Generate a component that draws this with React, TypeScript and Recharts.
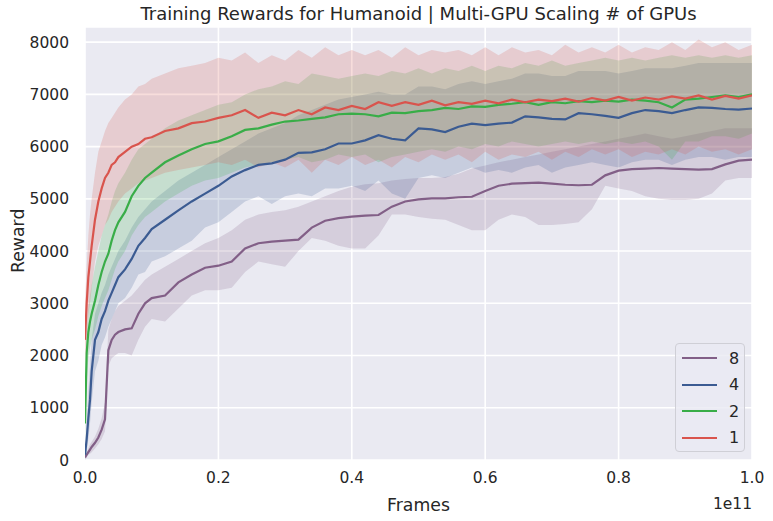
import React from 'react';
import { ComposedChart, Area, Line, XAxis, YAxis, CartesianGrid } from 'recharts';

// frames, in units of 1e11
const frames = [
  0, 0.0025, 0.005, 0.0075, 0.01, 0.015, 0.02, 0.025, 0.03, 0.035, 0.04, 0.045, 0.05,
  0.06, 0.07, 0.08, 0.09, 0.1, 0.12, 0.14, 0.16, 0.18, 0.2, 0.22, 0.24, 0.26, 0.28, 0.3,
  0.32, 0.34, 0.36, 0.38, 0.4, 0.42, 0.44, 0.46, 0.48, 0.5, 0.52, 0.54, 0.56, 0.58, 0.6,
  0.62, 0.64, 0.66, 0.68, 0.7, 0.72, 0.74, 0.76, 0.78, 0.8, 0.82, 0.84, 0.86, 0.88, 0.9,
  0.92, 0.94, 0.96, 0.98, 1.0,
];

// 1 GPU
const gpu1Mean = [
  2300, 3000, 3500, 3800, 4100, 4600, 4950, 5200, 5400, 5500, 5650, 5700, 5800,
  5900, 6000, 6050, 6150, 6180, 6300, 6350, 6450, 6480, 6550, 6600, 6700, 6550, 6650, 6600,
  6700, 6620, 6750, 6700, 6780, 6720, 6850, 6780, 6850, 6800, 6880, 6790, 6850, 6820, 6880,
  6830, 6900, 6850, 6900, 6870, 6920, 6860, 6930, 6880, 6950, 6880, 6940, 6900, 6960, 6920,
  6980, 6900, 6970, 6920, 6980,
];
const gpu1Hi = [
  3000, 3700, 4300, 4700, 5000, 5500, 5900, 6100, 6300, 6450, 6550, 6650, 6750,
  6900, 7000, 7150, 7200, 7300, 7400, 7500, 7550, 7600, 7700, 7650, 7800, 7600, 7750, 7650,
  7850, 7700, 7900, 7750, 7850, 7750, 7850, 7700, 7900, 7750, 7850, 7800, 7850, 7750, 7900,
  7750, 7900, 7800, 7850, 7750, 7950, 7800, 7900, 7800, 7950, 7800, 7900, 7850, 8000, 7850,
  8050, 7900, 8000, 7850, 7950,
];
const gpu1Lo = [
  1800, 2400, 2800, 3000, 3300, 3800, 4100, 4300, 4500, 4600, 4750, 4850, 4950,
  5100, 5200, 5300, 5350, 5400, 5500, 5550, 5600, 5650, 5700, 5650, 5750, 5600, 5700, 5600,
  5750, 5500, 5750, 5650, 5800, 5650, 5750, 5600, 5800, 5700, 5850, 5750, 5850, 5700, 5900,
  5750, 5850, 5800, 5900, 5750, 5900, 5800, 5950, 5850, 5950, 5800, 5900, 5850, 5950, 5850,
  6000, 5900, 5950, 5850, 5950,
];

// 2 GPUs
const gpu2Mean = [
  700, 2050, 2450, 2650, 2800, 3050, 3350, 3600, 3800, 3950, 4200, 4400, 4550,
  4750, 5050, 5250, 5400, 5500, 5700, 5830, 5950, 6050, 6100, 6200, 6320, 6350, 6420, 6480,
  6500, 6530, 6560, 6620, 6630, 6620, 6580, 6650, 6640, 6680, 6700, 6740, 6720, 6770, 6760,
  6800, 6820, 6850, 6800, 6850, 6830, 6870, 6850, 6880, 6860, 6900, 6880, 6850, 6750, 6900,
  6920, 6950, 6980, 6950, 7000,
];
const gpu2Hi = [
  1200, 2500, 2900, 3150, 3350, 3700, 4000, 4300, 4500, 4700, 4950, 5150, 5300,
  5500, 5750, 5950, 6050, 6150, 6350, 6500, 6600, 6700, 6800, 6850, 7000, 7100, 7150, 7250,
  7200, 7400, 7350, 7300, 7350, 7400, 7350, 7450, 7400, 7500, 7400, 7500, 7450, 7550, 7450,
  7550, 7500, 7600, 7550, 7650, 7550, 7600, 7650, 7700, 7650, 7700, 7650, 7700, 7750, 7700,
  7750, 7700, 7750, 7700, 7750,
];
const gpu2Lo = [
  300, 1500, 1950, 2150, 2300, 2500, 2750, 2950, 3100, 3250, 3450, 3650, 3800,
  4000, 4300, 4500, 4650, 4750, 4950, 5100, 5250, 5350, 5400, 5500, 5600, 5650, 5700, 5750,
  5800, 5700, 5750, 5850, 5800, 5850, 5700, 5800, 5850, 5900, 5950, 5900, 6000, 5950, 6050,
  6000, 6100, 6050, 6000, 6050, 6100, 6050, 6100, 6050, 6100, 6050, 6100, 6000, 5750, 6100,
  6100, 6200, 6200, 6150, 6250,
];

// 4 GPUs
const gpu4Mean = [
  100, 400, 800, 1150, 1700, 2300, 2450, 2700, 2850, 3050, 3200, 3350, 3500,
  3650, 3850, 4100, 4250, 4420, 4600, 4780, 4950, 5100, 5250, 5430, 5550, 5650, 5680, 5750,
  5880, 5890, 5950, 6060, 6060, 6120, 6220, 6150, 6120, 6350, 6330, 6280, 6380, 6440, 6410,
  6440, 6460, 6580, 6560, 6530, 6520, 6640, 6620, 6590, 6550, 6640, 6700, 6680, 6640, 6700,
  6750, 6740, 6720, 6710, 6730,
];
const gpu4Hi = [
  200, 700, 1300, 1800, 2300, 2800, 3000, 3200, 3350, 3550, 3700, 3850, 4000,
  4200, 4450, 4650, 4800, 4950, 5150, 5350, 5500, 5650, 5800, 5950, 6100, 6250, 6350, 6450,
  6600, 6700, 6800, 6900, 6950, 7000, 7050, 7000, 7000, 7150, 7150, 7100, 7200, 7250, 7200,
  7250, 7300, 7400, 7400, 7350, 7350, 7450, 7450, 7450, 7400, 7450, 7500, 7500, 7500, 7550,
  7600, 7600, 7600, 7600, 7600,
];
const gpu4Lo = [
  0, 150, 400, 700, 1100, 1700, 1900, 2200, 2350, 2550, 2700, 2850, 3000,
  3100, 3300, 3550, 3600, 3800, 3900, 4050, 4200, 4450, 4550, 4750, 4950, 5050, 4900, 5050,
  5100, 5050, 5200, 5200, 5250, 5150, 5350, 5100, 5000, 5400, 5450, 5400, 5500, 5600, 5500,
  5550, 5500, 5600, 5650, 5500, 5600, 5650, 5700, 5650, 5600, 5700, 5750, 5750, 5650, 5750,
  5800, 5800, 5750, 5800, 5800,
];

// 8 GPUs
const gpu8Mean = [
  50, 100, 150, 200, 250, 330, 430, 580, 780, 2100, 2300, 2400, 2450,
  2500, 2520, 2800, 3000, 3100, 3150, 3400, 3550, 3680, 3720, 3800, 4050, 4150, 4180, 4200,
  4220, 4450, 4580, 4630, 4660, 4680, 4690, 4850, 4950, 4990, 5010, 5010, 5030, 5040, 5150,
  5250, 5290, 5300, 5310, 5290, 5270, 5260, 5270, 5450, 5540, 5570, 5580, 5590, 5580, 5570,
  5560, 5570, 5660, 5730, 5750,
];
const gpu8Hi = [
  80, 150, 220, 300, 350, 450, 600, 800, 1100, 2500, 2700, 2850, 2950,
  3050, 3150, 3300, 3450, 3550, 3700, 3850, 4000, 4150, 4250, 4400, 4600, 4700, 4750, 4780,
  4850, 4950, 5050, 5150, 5230, 5280, 5300, 5350, 5380, 5400, 5400, 5420, 5480, 5580, 5640,
  5700, 5750, 5800, 5850, 5900, 5950, 6000, 6050, 6100, 6150, 6200, 6250, 6200, 6150, 6200,
  6250, 6300, 6350, 6350, 6350,
];
const gpu8Lo = [
  0, 50, 100, 120, 150, 220, 300, 400, 550, 1800, 1950, 2000, 2050,
  2050, 2000, 2300, 2550, 2700, 2650, 2900, 3150, 3250, 3250, 3300, 3600, 3800, 3750, 3700,
  4000, 4250, 4200, 4100, 4050, 4050, 4300, 4700, 4700, 4650, 4620, 4600, 4500, 4400, 4400,
  4600, 4700, 4650, 4500, 4500, 4520, 4550, 4800, 5250, 5200, 5150, 5050, 5000, 4980, 4980,
  5000, 5100, 5350, 5400, 5400,
];

const xTicks = [0, 0.2, 0.4, 0.6, 0.8, 1.0];
const yTicks = [0, 1000, 2000, 3000, 4000, 5000, 6000, 7000, 8000];

const legendItems = [
  { label: '8', color: '#825f87' },
  { label: '4', color: '#3b5b92' },
  { label: '2', color: '#39ad48' },
  { label: '1', color: '#d9544d' },
];

const data = frames.map((x, i) => ({
  x,
  m1: gpu1Mean[i],
  b1: [gpu1Lo[i], gpu1Hi[i]],
  m2: gpu2Mean[i],
  b2: [gpu2Lo[i], gpu2Hi[i]],
  m4: gpu4Mean[i],
  b4: [gpu4Lo[i], gpu4Hi[i]],
  m8: gpu8Mean[i],
  b8: [gpu8Lo[i], gpu8Hi[i]],
}));

const FONT = '"DejaVu Sans", sans-serif';
const INK = '#262626';

const LegendBox = () => (
  <div
    style={{
      position: 'absolute',
      left: 675,
      top: 343,
      width: 70,
      height: 109,
      boxSizing: 'border-box',
      border: '1px solid #cfcfd6',
      borderRadius: 4,
      background: 'rgba(234,234,242,0.8)',
      fontFamily: FONT,
      fontSize: 16,
      color: INK,
      paddingTop: 1,
    }}
  >
    {legendItems.map((it) => (
      <div key={it.label} style={{ display: 'flex', alignItems: 'center', height: 26.5 }}>
        <div style={{ width: 35, height: 2, background: it.color, marginLeft: 6 }} />
        <span style={{ marginLeft: 12 }}>{it.label}</span>
      </div>
    ))}
  </div>
);

const series = [
  { band: 'b8', mean: 'm8', color: '#825f87' },
  { band: 'b4', mean: 'm4', color: '#3b5b92' },
  { band: 'b2', mean: 'm2', color: '#39ad48' },
  { band: 'b1', mean: 'm1', color: '#d9544d' },
];

export default function App() {
  return (
    <div style={{ position: 'absolute', left: 0, top: 0, width: 773, height: 521, background: '#fff' }}>
      <ComposedChart
        width={773}
        height={521}
        data={data}
        margin={{ top: 27, right: 21, left: 0, bottom: 0 }}
      >
        <CartesianGrid fill="#eaeaf2" stroke="#ffffff" strokeWidth={1.6} />
        <XAxis
          dataKey="x"
          type="number"
          domain={[0, 1]}
          ticks={xTicks}
          tickFormatter={(v: number) => v.toFixed(1)}
          height={61}
          axisLine={false}
          tickLine={false}
          tick={{ fill: INK, fontSize: 15.5, fontFamily: FONT }}
          tickMargin={6}
          allowDataOverflow
        />
        <YAxis
          type="number"
          domain={[0, 8290]}
          ticks={yTicks}
          width={85}
          axisLine={false}
          tickLine={false}
          tick={{ fill: INK, fontSize: 15.5, fontFamily: FONT }}
          tickMargin={10}
          allowDataOverflow
        />
        {series.map((s) => [
          <Area
            key={s.band}
            type="linear"
            dataKey={s.band}
            stroke="none"
            fill={s.color}
            fillOpacity={0.2}
            isAnimationActive={false}
          />,
          <Line
            key={s.mean}
            type="linear"
            dataKey={s.mean}
            stroke={s.color}
            strokeWidth={2.2}
            dot={false}
            isAnimationActive={false}
          />,
        ])}
      </ComposedChart>
      <div
        style={{
          position: 'absolute',
          left: 85,
          width: 667,
          top: 3,
          textAlign: 'center',
          fontFamily: FONT,
          fontSize: 18,
          color: INK,
        }}
      >
        Training Rewards for Humanoid | Multi-GPU Scaling # of GPUs
      </div>
      <div
        style={{
          position: 'absolute',
          left: -12,
          top: 233,
          width: 60,
          textAlign: 'center',
          transform: 'rotate(-90deg)',
          fontFamily: FONT,
          fontSize: 17.3,
          color: INK,
        }}
      >
        Reward
      </div>
      <div
        style={{
          position: 'absolute',
          left: 85,
          width: 667,
          top: 495,
          textAlign: 'center',
          fontFamily: FONT,
          fontSize: 17.3,
          color: INK,
        }}
      >
        Frames
      </div>
      <div
        style={{
          position: 'absolute',
          right: 21,
          top: 495,
          fontFamily: FONT,
          fontSize: 15.5,
          color: INK,
        }}
      >
        1e11
      </div>
      <LegendBox />
    </div>
  );
}
